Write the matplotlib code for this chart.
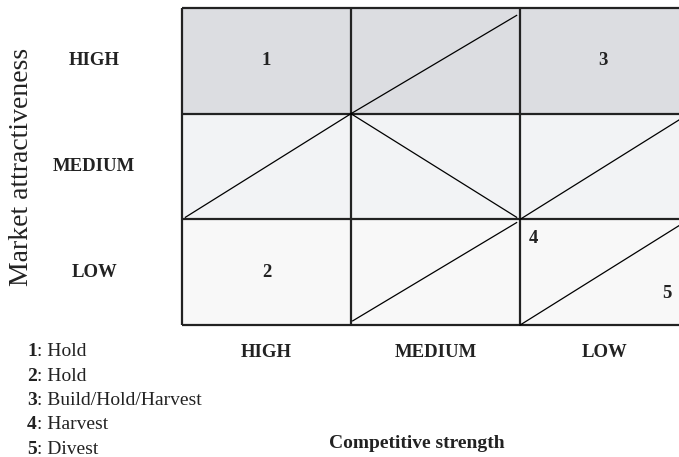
import matplotlib
matplotlib.use("Agg")
import matplotlib.pyplot as plt
from matplotlib.patches import Rectangle

# ---- data ----
row_labels = ["HIGH", "MEDIUM", "LOW"]          # market attractiveness (top -> bottom)
col_labels = ["HIGH", "MEDIUM", "LOW"]          # competitive strength (left -> right)
row_colors = ["#dcdde1", "#f2f3f5", "#f8f8f8"]
# cell numbers: (label, col position, row position) in cell units
cell_numbers = ["1", "3", "2", "4", "5"]
cell_num_x = [0.5, 2.49, 0.5, 2.08, 2.87]
cell_num_y = [0.5, 0.5, 2.5, 2.18, 2.70]
# diagonal segments in cell units (x0, y0, x1, y1)
diag_x0 = [1.0, 0.02, 1.0, 2.0, 1.01, 2.0]
diag_y0 = [1.0, 1.98, 1.0, 2.0, 2.96, 3.0]
diag_x1 = [1.98, 1.0, 1.98, 3.0, 1.98, 3.0]
diag_y1 = [0.07, 1.0, 1.98, 1.0, 2.03, 2.0]
legend_nums = ["1", "2", "3", "4", "5"]
legend_text = ["Hold", "Hold", "Build/Hold/Harvest", "Harvest", "Divest"]

W, H = 679, 457
fig = plt.figure(figsize=(W / 100, H / 100), dpi=100)
fig.patch.set_facecolor("white")
serif = ["Liberation Serif", "DejaVu Serif"]
ink = "#222222"

# grid axes: pixel box left=182, top=8, cell w=169, h=105.7
left, top, cw, ch = 182, 8, 169, 105.7
ax = fig.add_axes([left / W, 1 - (top + 3 * ch) / H, 3 * cw / W, 3 * ch / H])
ax.set_xlim(0, 3)
ax.set_ylim(3, 0)
ax.axis("off")

for r in range(3):
    ax.add_patch(Rectangle((0, r), 3, 1, facecolor=row_colors[r], edgecolor="none", zorder=0))
for k in range(4):
    ax.plot([k, k], [0, 3], color=ink, lw=1.6, zorder=2, solid_capstyle="butt", clip_on=False)
    ax.plot([0, 3], [k, k], color=ink, lw=1.6, zorder=2, solid_capstyle="butt", clip_on=False)
for x0, y0, x1, y1 in zip(diag_x0, diag_y0, diag_x1, diag_y1):
    ax.plot([x0, x1], [y0, y1], color="black", lw=0.9, zorder=3, clip_on=False)

for t, x, y in zip(cell_numbers, cell_num_x, cell_num_y):
    ax.text(x, y, t, ha="center", va="center", fontsize=13.5, fontweight="bold",
            family=serif, color=ink, zorder=4)

# row labels
for r, lab in enumerate(row_labels):
    ax.text(-0.52, r + 0.5, lab, ha="center", va="center", fontsize=13.5,
            fontweight="bold", family=serif, color=ink, clip_on=False)
# column labels
for c, lab in enumerate(col_labels):
    ax.text(c + 0.5, 3.26, lab, ha="center", va="center", fontsize=13.5,
            fontweight="bold", family=serif, color=ink, clip_on=False)

fig.text(22 / W, 1 - 167 / H, "Market attractiveness", rotation=90, ha="center",
         va="center", fontsize=20, family=serif, color=ink)
fig.text(417 / W, 1 - 443 / H, "Competitive strength", ha="center", va="center",
         fontsize=14, fontweight="bold", family=serif, color=ink)

for i, (n, t) in enumerate(zip(legend_nums, legend_text)):
    y = 1 - (352 + 24.3 * i) / H
    tn = fig.text(27 / W, y, n, ha="left", va="baseline", fontsize=14,
                  fontweight="bold", family=serif, color=ink)
    tn.set_va("center")
    fig.text(0, 0, "")
    ax.annotate(": " + t, xy=(1, 0.5), xycoords=tn, ha="left", va="center",
                fontsize=14, family=serif, color=ink, annotation_clip=False)

fig.savefig("out.png", dpi=100, facecolor="white")
